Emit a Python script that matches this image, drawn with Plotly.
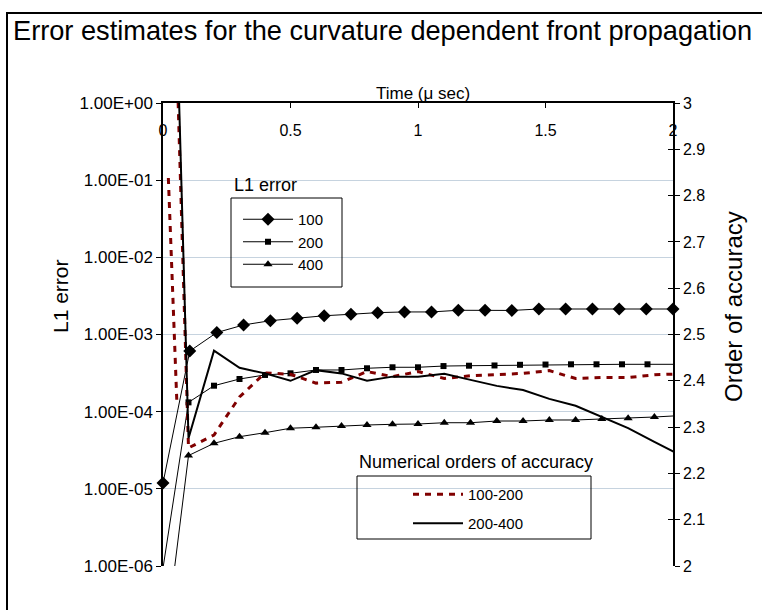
import plotly.graph_objects as go

# ---------------- data ----------------
t100 = [0, 0.105, 0.211, 0.316, 0.421, 0.526, 0.632, 0.737, 0.842, 0.947,
        1.053, 1.158, 1.263, 1.368, 1.474, 1.579, 1.684, 1.789, 1.895, 2.0]
e100 = [1.19e-5, 6.1e-4, 1.06e-3, 1.33e-3, 1.51e-3, 1.62e-3, 1.75e-3, 1.83e-3, 1.92e-3, 1.96e-3,
        1.96e-3, 2.06e-3, 2.06e-3, 2.05e-3, 2.14e-3, 2.14e-3, 2.14e-3, 2.14e-3, 2.14e-3, 2.14e-3]

t200 = [0, 0.1, 0.2, 0.3, 0.4, 0.5, 0.6, 0.7, 0.8, 0.9, 1.0,
        1.1, 1.2, 1.3, 1.4, 1.5, 1.6, 1.7, 1.8, 1.9, 2.02]
e200 = [9.4e-7, 1.32e-4, 2.17e-4, 2.65e-4, 2.99e-4, 3.14e-4, 3.47e-4, 3.47e-4, 3.65e-4, 3.76e-4, 3.76e-4,
        3.90e-4, 3.94e-4, 3.97e-4, 4.05e-4, 4.08e-4, 4.11e-4, 4.11e-4, 4.11e-4, 4.11e-4, 4.11e-4]

t400 = [0, 0.1, 0.2, 0.3, 0.4, 0.5, 0.6, 0.7, 0.8, 0.9, 1.0,
        1.103, 1.206, 1.309, 1.412, 1.515, 1.618, 1.721, 1.824, 1.927, 2.03]
e400 = [5.9e-8, 2.7e-5, 3.89e-5, 4.74e-5, 5.34e-5, 6.10e-5, 6.28e-5, 6.52e-5, 6.72e-5, 6.86e-5, 6.92e-5,
        7.19e-5, 7.19e-5, 7.57e-5, 7.57e-5, 7.80e-5, 7.80e-5, 8.04e-5, 8.21e-5, 8.53e-5, 8.9e-5]

# orders of accuracy (right axis); the 100-200 curve has a short separate early stroke
t_order_100_200 = [0.021, 0.054, None, 0, 0.1, 0.2, 0.3, 0.4, 0.5, 0.6, 0.7, 0.8, 0.9, 1.0,
                   1.103, 1.206, 1.309, 1.412, 1.515, 1.618, 1.721, 1.824, 1.927, 2.03]
order_100_200 = [2.838, 2.359, None, 4.09, 2.255, 2.283, 2.365, 2.417, 2.414, 2.395, 2.397, 2.420,
                 2.409, 2.420, 2.405, 2.411, 2.414, 2.416, 2.422, 2.405, 2.407, 2.407, 2.413, 2.415]
t_order_200_400 = t400
order_200_400 = [4.25, 2.276, 2.465, 2.428, 2.416, 2.400, 2.423, 2.416, 2.400, 2.409, 2.409,
                 2.415, 2.402, 2.389, 2.380, 2.361, 2.346, 2.322, 2.298, 2.268, 2.239]

log_ticks = [1e-6, 1e-5, 1e-4, 1e-3, 1e-2, 1e-1, 1e0]
log_tick_text = ["1.00E-06", "1.00E-05", "1.00E-04", "1.00E-03", "1.00E-02", "1.00E-01", "1.00E+00"]
order_ticks = [2.0, 2.1, 2.2, 2.3, 2.4, 2.5, 2.6, 2.7, 2.8, 2.9, 3.0]
order_tick_text = ["2", "2.1", "2.2", "2.3", "2.4", "2.5", "2.6", "2.7", "2.8", "2.9", "3"]
time_ticks = [0, 0.5, 1, 1.5, 2]
time_tick_text = ["0", "0.5", "1", "1.5", "2"]

# ---------------- geometry helpers (pixels -> paper) ----------------
W, H = 762, 610
L, R, T, B = 163, 673, 103, 566
def X(px):
    return (px - L) / (R - L)
def Y(py):
    return (B - py) / (B - T)

FONT = "Liberation Sans, Arial, sans-serif"

fig = go.Figure()
fig.add_trace(go.Scatter(x=t100, y=e100, name="100", mode="lines+markers",
                         line=dict(color="black", width=1),
                         marker=dict(symbol="diamond", size=10, color="black"),
                         cliponaxis=False, legend="legend"))
fig.add_trace(go.Scatter(x=t200, y=e200, name="200", mode="lines+markers",
                         line=dict(color="black", width=1),
                         marker=dict(symbol="square", size=6, color="black"),
                         legend="legend"))
fig.add_trace(go.Scatter(x=t400, y=e400, name="400", mode="lines+markers",
                         line=dict(color="black", width=1),
                         marker=dict(symbol="triangle-up", size=8, color="black"),
                         legend="legend"))
fig.add_trace(go.Scatter(x=t_order_100_200, y=order_100_200, name="100-200", mode="lines",
                         line=dict(color="#800000", width=3, dash="6px,6px"),
                         connectgaps=False,
                         yaxis="y2", legend="legend2", legendgroup="a"))
fig.add_trace(go.Scatter(x=t_order_200_400, y=order_200_400, name="200-400", mode="lines",
                         line=dict(color="black", width=2),
                         yaxis="y2", legend="legend2", legendgroup="b"))
# empty helper traces so the extra tick axes exist
fig.add_trace(go.Scatter(x=[], y=[], xaxis="x2", showlegend=False, hoverinfo="skip"))
fig.add_trace(go.Scatter(x=[], y=[], yaxis="y3", showlegend=False, hoverinfo="skip"))

grid = "#c6d3df"
fig.update_layout(
    width=W, height=H,
    margin=dict(l=L, r=W - R, t=T, b=H - B, pad=0),
    paper_bgcolor="white", plot_bgcolor="white",
    font=dict(family=FONT, size=16, color="black"),
    showlegend=True,
    xaxis=dict(side="top", range=[0, 2], tickvals=time_ticks, ticktext=time_tick_text,
               ticks="inside", ticklen=5, tickcolor="black", showticklabels=False,
               showline=True, linecolor="black", linewidth=1.5,
               showgrid=False, zeroline=False),
    xaxis2=dict(overlaying="x", anchor="free", position=Y(119), side="bottom",
                range=[0, 2], tickvals=time_ticks, ticktext=time_tick_text,
                ticks="", showline=False, showgrid=False, zeroline=False,
                tickfont=dict(size=16)),
    yaxis=dict(type="log", range=[-6, 0], tickvals=log_ticks, ticktext=log_tick_text,
               ticks="outside", ticklen=5, tickcolor="black",
               showline=True, linecolor="black", linewidth=1.5,
               showgrid=True, gridcolor=grid, gridwidth=1, zeroline=False,
               tickfont=dict(size=17)),
    yaxis2=dict(overlaying="y", side="right", range=[2, 3], tickvals=order_ticks,
                ticktext=order_tick_text, ticks="outside", ticklen=5, tickcolor="black",
                showline=True, linecolor="black", linewidth=1.5,
                showgrid=False, zeroline=False, tickfont=dict(size=16)),
    yaxis3=dict(overlaying="y", side="right", anchor="x", range=[2, 3], tickvals=order_ticks,
                ticks="inside", ticklen=5, tickcolor="black", showticklabels=False,
                showline=False, showgrid=False, zeroline=False),
    legend=dict(x=X(238), y=Y(203), xanchor="left", yanchor="top",
                bgcolor="rgba(0,0,0,0)", borderwidth=0, itemwidth=50,
                font=dict(size=15, family=FONT), tracegroupgap=0),
    legend2=dict(x=X(408), y=Y(478), xanchor="left", yanchor="top",
                 bgcolor="rgba(0,0,0,0)", borderwidth=0, itemwidth=50,
                 font=dict(size=15, family=FONT), tracegroupgap=6.5),
)

shapes = [
    # white patch hiding part of the gridlines
    dict(type="rect", xref="paper", yref="paper", x0=X(357), x1=X(478), y0=Y(266), y1=Y(170),
         fillcolor="white", line=dict(width=0), layer="between"),
    # legend boxes
    dict(type="rect", xref="paper", yref="paper", x0=X(231), x1=X(342), y0=Y(287), y1=Y(198),
         line=dict(color="black", width=1), fillcolor="rgba(0,0,0,0)", layer="above"),
    dict(type="rect", xref="paper", yref="paper", x0=X(357), x1=X(591), y0=Y(539), y1=Y(476),
         line=dict(color="black", width=1), fillcolor="rgba(0,0,0,0)", layer="above"),
    # outer frame
    dict(type="rect", xref="paper", yref="paper", x0=X(7), x1=X(800), y0=Y(650), y1=Y(13),
         line=dict(color="black", width=2), fillcolor="rgba(0,0,0,0)", layer="above"),
]
fig.update_layout(shapes=shapes)

ann = [
    dict(text="Error estimates for the curvature dependent front propagation",
         x=X(11), y=Y(30), xanchor="left", yanchor="middle", font=dict(size=27.2)),
    dict(text="Time (μ sec)", x=X(423), y=Y(93), xanchor="center", yanchor="middle",
         font=dict(size=17)),
    dict(text="L1 error", x=X(60), y=Y(296), xanchor="center", yanchor="middle",
         textangle=-90, font=dict(size=21)),
    dict(text="Order of accuracy", x=X(733), y=Y(307), xanchor="center", yanchor="middle",
         textangle=-90, font=dict(size=24)),
    dict(text="L1 error", x=X(232), y=Y(185), xanchor="left", yanchor="middle",
         font=dict(size=18)),
    dict(text="Numerical orders of accuracy", x=X(357), y=Y(462), xanchor="left",
         yanchor="middle", font=dict(size=18)),
]
for a in ann:
    a.update(xref="paper", yref="paper", showarrow=False)
fig.update_layout(annotations=ann)

fig.write_html("out.html")
